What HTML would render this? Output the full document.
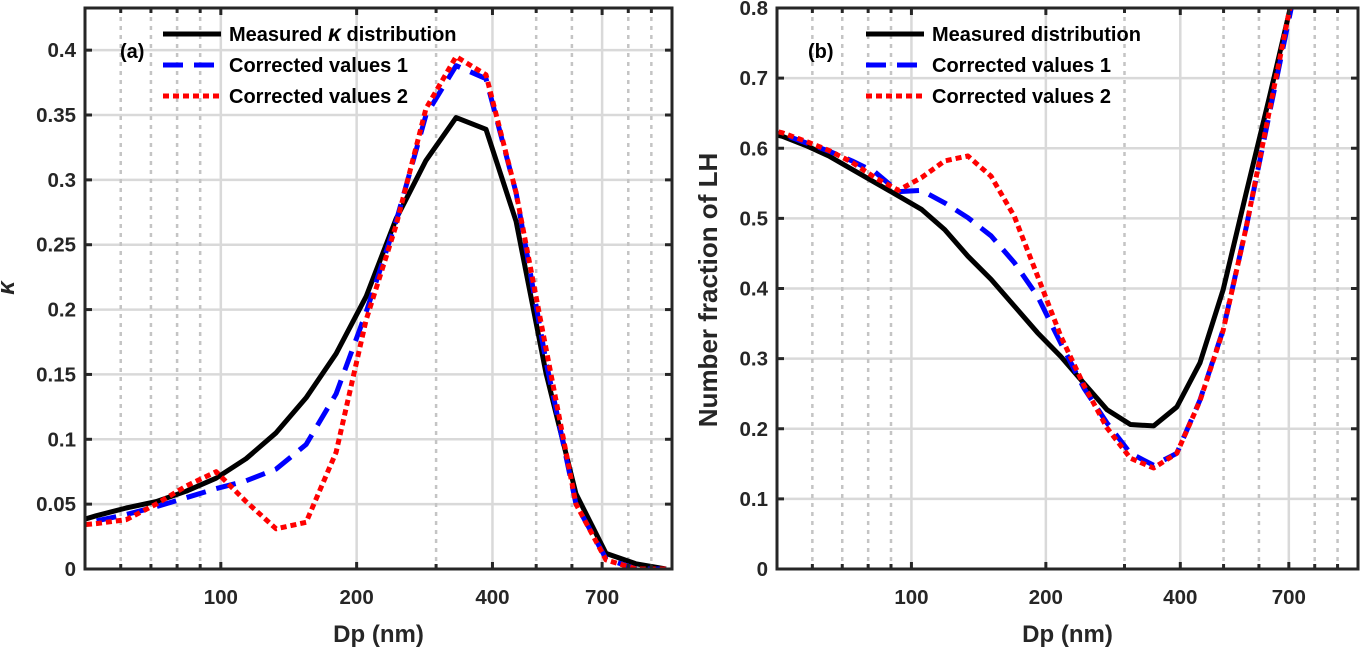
<!DOCTYPE html>
<html><head><meta charset="utf-8"><style>
html,body{margin:0;padding:0;background:#fff;}
svg{display:block;font-family:"Liberation Sans",sans-serif;font-weight:bold;}
</style></head><body>
<svg id="fig" width="1363" height="650" viewBox="0 0 1363 650" xmlns="http://www.w3.org/2000/svg"></svg>
<script>
// ---- Panel (a) data ----
const dpA = [45.4,52.9,61.7,71.9,83.8,97.6,113.8,132.6,154.5,180.1,209.9,244.6,285.0,332.2,387.1,451.2,525.8,612.8,714.1,832.2,969.9];
const kappaMeasured = [0.034,0.041,0.047,0.052,0.060,0.070,0.085,0.105,0.132,0.166,0.210,0.270,0.315,0.348,0.339,0.268,0.151,0.058,0.012,0.004,0.0];
const kappaCorr1 = [0.033,0.037,0.042,0.048,0.055,0.062,0.068,0.077,0.096,0.135,0.198,0.268,0.350,0.388,0.378,0.290,0.160,0.050,0.008,0.0,0.0];
const kappaCorr2 = [0.033,0.035,0.038,0.050,0.064,0.075,0.052,0.031,0.036,0.090,0.192,0.265,0.355,0.395,0.381,0.290,0.170,0.050,0.007,0.0,0.0];
const yTicksA = [0,0.05,0.1,0.15,0.2,0.25,0.3,0.35,0.4];
const yTickLabelsA = ["0","0.05","0.1","0.15","0.2","0.25","0.3","0.35","0.4"];
// ---- Panel (b) data ----
const dpB = [45.6,51.4,57.9,65.3,73.6,82.9,93.5,105.3,118.7,133.8,150.8,170.0,191.6,216.0,243.4,274.3,309.2,348.5,392.8,442.7,498.9,562.3,633.8,714.3,805.0,907.4];
const lhMeasured = [0.625,0.617,0.604,0.589,0.570,0.551,0.532,0.513,0.484,0.446,0.413,0.375,0.337,0.303,0.265,0.227,0.206,0.204,0.231,0.294,0.398,0.537,0.674,0.815,0.95,1.0];
const lhCorr1 = [0.626,0.620,0.608,0.596,0.582,0.566,0.538,0.540,0.522,0.501,0.475,0.437,0.389,0.322,0.258,0.208,0.165,0.148,0.165,0.241,0.341,0.488,0.651,0.81,0.95,1.0];
const lhCorr2 = [0.630,0.622,0.610,0.597,0.580,0.558,0.540,0.558,0.582,0.589,0.560,0.503,0.418,0.332,0.262,0.201,0.158,0.144,0.165,0.240,0.340,0.488,0.655,0.82,0.96,1.0];
const yTicksB = [0,0.1,0.2,0.3,0.4,0.5,0.6,0.7,0.8];
const yTickLabelsB = ["0","0.1","0.2","0.3","0.4","0.5","0.6","0.7","0.8"];
// ---- shared x ticks ----
const xMajor = [100,200,400,700];
const xMajorLabels = ["100","200","400","700"];
const xMinor = [60,70,80,90,300,500,600,800,900];

const NS = "http://www.w3.org/2000/svg";
const svg = document.getElementById("fig");
function mk(tag, attrs, parent){
  const e = document.createElementNS(NS, tag);
  for (const k in attrs) e.setAttribute(k, attrs[k]);
  (parent||svg).appendChild(e);
  return e;
}

function panel(id, L, R, T, B, ymax, yTicks, yLabels, series, yTitle, tag, legendTexts, legX){
  const g = mk("g", {});
  
  
  const xs = d => L + Math.log10(d/50)/Math.log10(1000/50)*(R-L);
  const ys = v => B - v/ymax*(B-T);
  const clipId = "clip-" + id;
  const defs = mk("defs", {}, g);
  const cp = mk("clipPath", {id: clipId}, defs);
  mk("rect", {x:L, y:T, width:R-L, height:B-T}, cp);
  const grid = mk("g", {}, g);
  
  
  yTicks.forEach(v => { mk("line", {x1:L, x2:R, y1:ys(v), y2:ys(v), stroke:"#d9d9d9", "stroke-width":2.5}, grid); });
  xMajor.forEach(d => { mk("line", {x1:xs(d), x2:xs(d), y1:T, y2:B, stroke:"#d9d9d9", "stroke-width":2.5}, grid); });
  xMinor.forEach(d => { mk("line", {x1:xs(d), x2:xs(d), y1:T, y2:B, stroke:"#c4c4c4", "stroke-width":2.5, "stroke-dasharray":"4 5"}, grid); });
  const styles = [
    {stroke:"#000", dash:"", name:"measured-line"},
    {stroke:"#0000ff", dash:"20 11", name:"corrected-1-line"},
    {stroke:"#ff0000", dash:"6 4", name:"corrected-2-line"}
  ];
  const dp = series.dp;
  [series.s0, series.s1, series.s2].forEach((vals, i) => {
    const pts = dp.map((d, j) => xs(d).toFixed(1) + "," + ys(vals[j]).toFixed(1)).join(" ");
    const pl = mk("polyline", {points:pts, fill:"none", stroke:styles[i].stroke, "stroke-width":5, "stroke-dasharray":styles[i].dash, "stroke-linejoin":"round", "clip-path":"url(#"+clipId+")"}, g);
    
    
  });
  const box = mk("rect", {x:L, y:T, width:R-L, height:B-T, fill:"none", stroke:"#262626", "stroke-width":3}, g);
  
  
  const tk = mk("g", {stroke:"#262626", "stroke-width":3}, g);
  yTicks.forEach(v => {
    mk("line", {x1:L, x2:L+7, y1:ys(v), y2:ys(v)}, tk);
    mk("line", {x1:R-7, x2:R, y1:ys(v), y2:ys(v)}, tk);
  });
  xMajor.concat(xMinor).forEach(d => {
    const len = xMajor.includes(d) ? 7 : 5;
    mk("line", {x1:xs(d), x2:xs(d), y1:B-len, y2:B}, tk);
    mk("line", {x1:xs(d), x2:xs(d), y1:T, y2:T+len}, tk);
  });
  yTicks.forEach((v, i) => {
    const t = mk("text", {x:L-9, y:ys(v)+7, "text-anchor":"end", "font-size":20.5, fill:"#262626"}, g);
    t.textContent = yLabels[i];
    
    
  });
  xMajor.forEach((d, i) => {
    const t = mk("text", {x:xs(d), y:B+35, "text-anchor":"middle", "font-size":20.5, fill:"#262626"}, g);
    t.textContent = xMajorLabels[i];
    
    
  });
  const xt = mk("text", {x:(L+R)/2, y:B+73, "text-anchor":"middle", "font-size":24, fill:"#262626"}, g);
  xt.textContent = "Dp (nm)";
  
  
  const yt = mk("text", {x:0, y:0, "text-anchor":"middle", "font-size":yTitle.size, fill:"#262626", "font-style":yTitle.italic?"italic":"normal", transform:"translate("+yTitle.x+","+yTitle.y+") rotate(-90)"}, g);
  yt.textContent = yTitle.text;
  
  
  const lab = mk("text", {x:tag.x, y:tag.y, "font-size":20, fill:"#000"}, g);
  lab.textContent = tag.text;
  
  
  const lg = mk("g", {}, g);
  
  
  legendTexts.forEach((txt, i) => {
    const yy = T + 26 + i*31;
    const ent = mk("g", {}, lg);
    
    
    mk("line", {x1:legX, x2:legX+58, y1:yy, y2:yy, stroke:styles[i].stroke, "stroke-width":5, "stroke-dasharray":styles[i].dash}, ent);
    const t = mk("text", {x:legX+66, y:yy+7, "font-size":20, fill:"#000"}, ent);
    t.innerHTML = txt;
  });
}

panel("kappa", 85, 672, 8, 569, 0.4325, yTicksA, yTickLabelsA,
  {dp:dpA, s0:kappaMeasured, s1:kappaCorr1, s2:kappaCorr2},
  {text:"κ", x:14, y:288, size:24, italic:true},
  {text:"(a)", x:120, y:58},
  ['Measured <tspan font-style="italic" font-size="23">κ</tspan> distribution','Corrected values 1','Corrected values 2'], 163);

panel("lh", 777, 1358, 8, 569, 0.8, yTicksB, yTickLabelsB,
  {dp:dpB, s0:lhMeasured, s1:lhCorr1, s2:lhCorr2},
  {text:"Number fraction of LH", x:717, y:290, size:26, italic:false},
  {text:"(b)", x:808, y:58},
  ['Measured distribution','Corrected values 1','Corrected values 2'], 866);
</script>
</body></html>
